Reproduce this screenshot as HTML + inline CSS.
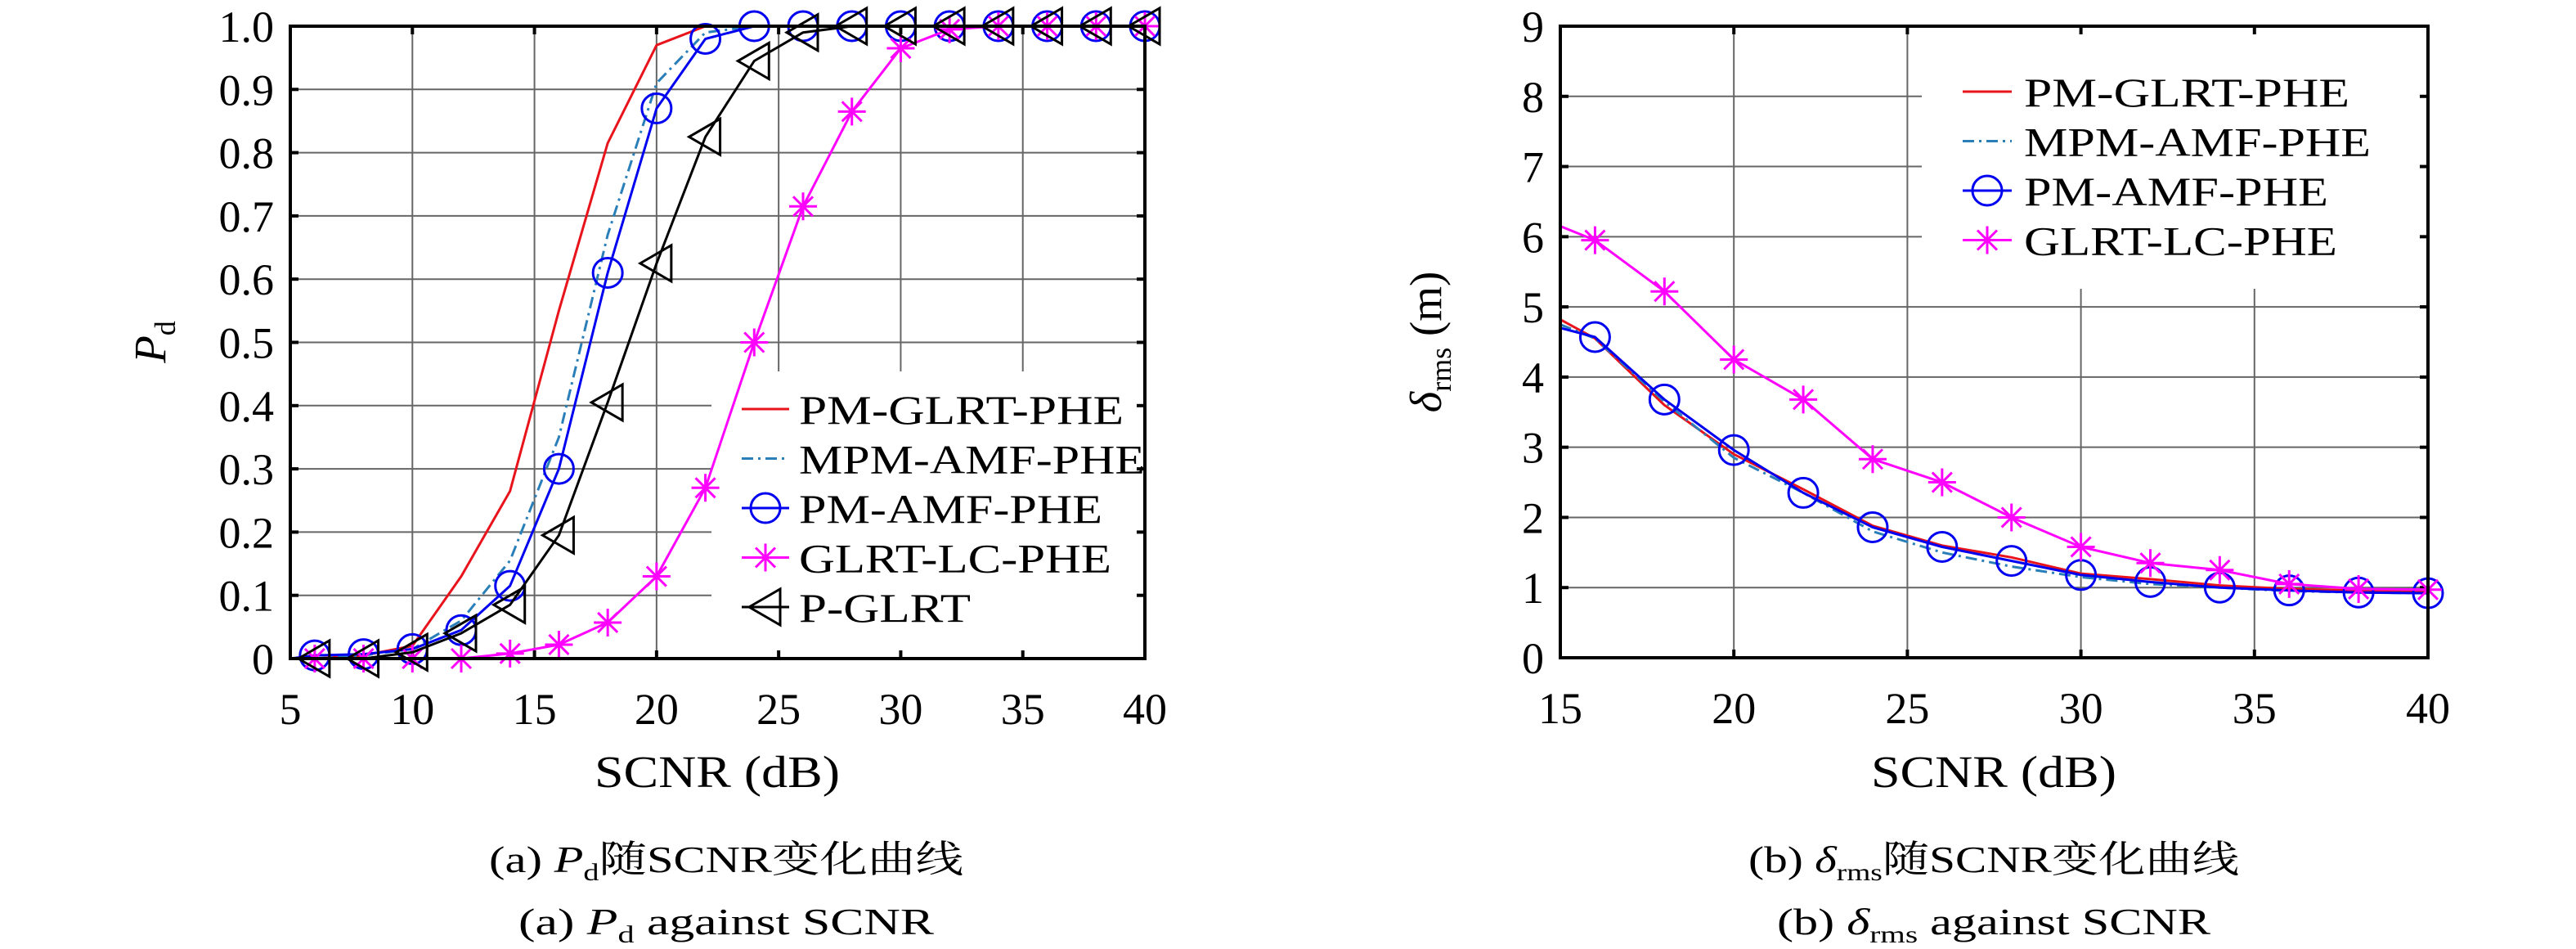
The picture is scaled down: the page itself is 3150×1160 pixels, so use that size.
<!DOCTYPE html>
<html><head><meta charset="utf-8"><style>
html,body{margin:0;padding:0;background:#fff;}
svg{display:block;font-family:"Liberation Serif","Noto Serif CJK SC",serif;}
</style></head><body>
<svg id="fig" width="3150" height="1160" viewBox="0 0 3150 1160" xmlns="http://www.w3.org/2000/svg">
<defs>
<clipPath id="clipA"><rect x="355" y="32" width="1045" height="773"/></clipPath>
<clipPath id="clipB"><rect x="1908" y="32" width="1061" height="772"/></clipPath>
</defs>
<g id="plotA"></g>
<g id="plotB"></g>
<text x="877" y="962" font-size="55" text-anchor="middle" textLength="300" lengthAdjust="spacingAndGlyphs">SCNR (dB)</text>
<text x="2438" y="962" font-size="55" text-anchor="middle" textLength="300" lengthAdjust="spacingAndGlyphs">SCNR (dB)</text>
<text transform="translate(202,418) rotate(-90)" font-size="55" text-anchor="middle"><tspan font-style="italic">P</tspan><tspan font-size="36" dy="12">d</tspan></text>
<text transform="translate(1762,418) rotate(-90)" font-size="55" text-anchor="middle"><tspan font-style="italic">δ</tspan><tspan font-size="36" dy="12">rms</tspan><tspan dy="-12"> (m)</tspan></text>
<text x="888" y="1066" font-size="46" text-anchor="middle" textLength="580" lengthAdjust="spacingAndGlyphs">(a) <tspan font-style="italic">P</tspan><tspan font-size="30" dy="10">d</tspan><tspan dy="-10">随SCNR变化曲线</tspan></text>
<text x="888" y="1142" font-size="46" text-anchor="middle" textLength="508" lengthAdjust="spacingAndGlyphs">(a) <tspan font-style="italic">P</tspan><tspan font-size="30" dy="10">d</tspan><tspan dy="-10"> against SCNR</tspan></text>
<text x="2438" y="1066" font-size="46" text-anchor="middle" textLength="600" lengthAdjust="spacingAndGlyphs">(b) <tspan font-style="italic">δ</tspan><tspan font-size="30" dy="10">rms</tspan><tspan dy="-10">随SCNR变化曲线</tspan></text>
<text x="2438" y="1142" font-size="46" text-anchor="middle" textLength="530" lengthAdjust="spacingAndGlyphs">(b) <tspan font-style="italic">δ</tspan><tspan font-size="30" dy="10">rms</tspan><tspan dy="-10"> against SCNR</tspan></text>
</svg>
<script>
// ---- Chart A data ----
const xsA = [5,6,8,10,12,14,16,18,20,22,24,26,28,30,32,34,36,38,40];
const pmGlrtA = [0,0,0.005,0.02,0.13,0.265,0.55,0.815,0.97,1,1,1,1,1,1,1,1,1,1];
const mpmAmfA = [0,0,0.005,0.015,0.06,0.155,0.35,0.67,0.91,0.99,1,1,1,1,1,1,1,1,1];
const pmAmfA = [0,0.005,0.007,0.015,0.045,0.115,0.30,0.61,0.87,0.98,1,1,1,1,1,1,1,1,1];
const glrtLcA = [0,0,0,0,0,0.008,0.022,0.057,0.13,0.27,0.50,0.715,0.865,0.965,0.995,1,1,1,1];
const pGlrtA = [0,0,0,0.01,0.04,0.085,0.195,0.405,0.625,0.825,0.945,0.99,1,1,1,1,1,1,1];
const xTicksA = [5,10,15,20,25,30,35,40];
const yTicksA = [0,0.1,0.2,0.3,0.4,0.5,0.6,0.7,0.8,0.9,1.0];
const yTickLabelsA = ["0","0.1","0.2","0.3","0.4","0.5","0.6","0.7","0.8","0.9","1.0"];
// ---- Chart B data ----
const xsB = [15,16,18,20,22,24,26,28,30,32,34,36,38,40];
const pmGlrtB = [4.82,4.55,3.6,2.9,2.4,1.88,1.6,1.43,1.2,1.12,1.03,0.98,0.96,0.95];
const mpmAmfB = [4.75,4.55,3.65,2.85,2.35,1.8,1.5,1.3,1.15,1.05,1.0,0.95,0.93,0.92];
const pmAmfB = [4.7,4.57,3.68,2.96,2.35,1.86,1.58,1.38,1.18,1.08,1.0,0.96,0.93,0.92];
const glrtLcB = [6.15,5.95,5.22,4.25,3.68,2.83,2.5,2.0,1.58,1.35,1.25,1.05,0.98,0.97];
const xTicksB = [15,20,25,30,35,40];
const yTicksB = [0,1,2,3,4,5,6,7,8,9];
const yTickLabelsB = ["0","1","2","3","4","5","6","7","8","9"];

const NS = "http://www.w3.org/2000/svg";
function mk(tag, attrs, parent){
  const e = document.createElementNS(NS, tag);
  for (const k in attrs) e.setAttribute(k, attrs[k]);
  parent.appendChild(e);
  return e;
}
function marker(g, type, cx, cy, color){
  if (type === 'circle'){
    const c = mk('circle', {cx:cx, cy:cy, r:18, fill:'none', stroke:color, 'stroke-width':3}, g);
    
    
  } else if (type === 'star'){
    const s = 17, d = 12;
    const p = mk('path', {d:`M${cx-s},${cy}H${cx+s}M${cx},${cy-s}V${cy+s}M${cx-d},${cy-d}L${cx+d},${cy+d}M${cx-d},${cy+d}L${cx+d},${cy-d}`, stroke:color, 'stroke-width':3, fill:'none'}, g);
    
    
  } else if (type === 'tri'){
    const p = mk('path', {d:`M${cx-20},${cy}L${cx+18},${cy-22}L${cx+18},${cy+22}Z`, stroke:color, 'stroke-width':3, fill:'none'}, g);
    
    
  }
}
function buildChart(cfg){
  const g = document.getElementById(cfg.id);
  const sx = v => cfg.x0 + (v - cfg.xmin) / (cfg.xmax - cfg.xmin) * (cfg.x1 - cfg.x0);
  const sy = v => cfg.y1 - (v - cfg.ymin) / (cfg.ymax - cfg.ymin) * (cfg.y1 - cfg.y0);
  cfg.xTicks.forEach(t => {
    const l = mk('line', {x1:sx(t), x2:sx(t), y1:cfg.y0, y2:cfg.y1, stroke:'#666', 'stroke-width':2}, g);
    
    
    const tx = mk('text', {x:sx(t), y:cfg.y1 + 80, 'font-size':54, 'text-anchor':'middle'}, g);
    tx.textContent = t;
    
    
  });
  cfg.yTicks.forEach((t, i) => {
    const l = mk('line', {x1:cfg.x0, x2:cfg.x1, y1:sy(t), y2:sy(t), stroke:'#666', 'stroke-width':2}, g);
    
    
    const tx = mk('text', {x:cfg.x0 - 20, y:sy(t) + 19, 'font-size':54, 'text-anchor':'end'}, g);
    tx.textContent = cfg.yLabels[i];
    
    
  });
  const lb = mk('rect', {x:cfg.leg.bx, y:cfg.leg.by, width:cfg.leg.bw, height:cfg.leg.bh, fill:'#fff'}, g);
  
  
  const tk = mk('g', {stroke:'#000', 'stroke-width':4}, g);
  
  
  cfg.xTicks.forEach(t => {
    mk('line', {x1:sx(t), x2:sx(t), y1:cfg.y1, y2:cfg.y1 - 10}, tk);
    mk('line', {x1:sx(t), x2:sx(t), y1:cfg.y0, y2:cfg.y0 + 10}, tk);
  });
  cfg.yTicks.forEach(t => {
    mk('line', {x1:cfg.x0, x2:cfg.x0 + 10, y1:sy(t), y2:sy(t)}, tk);
    mk('line', {x1:cfg.x1, x2:cfg.x1 - 10, y1:sy(t), y2:sy(t)}, tk);
  });
  cfg.series.forEach(s => {
    const sg = mk('g', {}, g);
    
    
    const pts = cfg.xs.map((x, i) => sx(x).toFixed(1) + ',' + sy(s.data[i]).toFixed(1)).join(' ');
    const pl = mk('polyline', {points:pts, fill:'none', stroke:s.color, 'stroke-width':3, 'clip-path':cfg.clip, 'stroke-linejoin':'round'}, sg);
    if (s.dash) pl.setAttribute('stroke-dasharray', s.dash);
    
    
    if (s.marker) cfg.xs.forEach((x, i) => { if (x % 2 === 0) marker(sg, s.marker, sx(x), sy(s.data[i]), s.color); });
  });
  const box = mk('rect', {x:cfg.x0, y:cfg.y0, width:cfg.x1 - cfg.x0, height:cfg.y1 - cfg.y0, fill:'none', stroke:'#000', 'stroke-width':4}, g);
  
  
  const lg = mk('g', {}, g);
  
  
  cfg.series.forEach((s, i) => {
    const y = cfg.leg.y0 + i * cfg.leg.dy;
    const eg = mk('g', {}, lg);
    
    
    const ln = mk('line', {x1:cfg.leg.lx0, x2:cfg.leg.lx1, y1:y, y2:y, stroke:s.color, 'stroke-width':3}, eg);
    if (s.dash) ln.setAttribute('stroke-dasharray', s.dash);
    if (s.marker) marker(eg, s.marker, (cfg.leg.lx0 + cfg.leg.lx1) / 2, y, s.color);
    const t = mk('text', {x:cfg.leg.tx, y:y + 18, 'font-size':50, textLength:s.tl, lengthAdjust:'spacingAndGlyphs'}, eg);
    t.textContent = s.label;
  });
}
buildChart({id:'plotA', x0:355, x1:1400, y0:32, y1:805, xmin:5, xmax:40, ymin:0, ymax:1,
  xs:xsA, xTicks:xTicksA, yTicks:yTicksA, yLabels:yTickLabelsA, clip:'url(#clipA)',
  leg:{bx:870, by:454, bw:528, bh:349, y0:500, dy:60.5, lx0:907, lx1:965, tx:977},
  series:[
    {key:'pm-glrt-phe', label:'PM-GLRT-PHE', data:pmGlrtA, color:'#e8131b', tl:397},
    {key:'mpm-amf-phe', label:'MPM-AMF-PHE', data:mpmAmfA, color:'#2a7fb8', dash:'14,6,3,6', tl:423},
    {key:'pm-amf-phe', label:'PM-AMF-PHE', data:pmAmfA, color:'#0000f0', marker:'circle', tl:371},
    {key:'glrt-lc-phe', label:'GLRT-LC-PHE', data:glrtLcA, color:'#ff00ff', marker:'star', tl:382},
    {key:'p-glrt', label:'P-GLRT', data:pGlrtA, color:'#000', marker:'tri', tl:210}
  ]});
buildChart({id:'plotB', x0:1908, x1:2969, y0:32, y1:804, xmin:15, xmax:40, ymin:0, ymax:9,
  xs:xsB, xTicks:xTicksB, yTicks:yTicksB, yLabels:yTickLabelsB, clip:'url(#clipB)',
  leg:{bx:2350, by:34, bw:617, bh:319, y0:112, dy:60.5, lx0:2400, lx1:2460, tx:2475},
  series:[
    {key:'pm-glrt-phe', label:'PM-GLRT-PHE', data:pmGlrtB, color:'#e8131b', tl:398},
    {key:'mpm-amf-phe', label:'MPM-AMF-PHE', data:mpmAmfB, color:'#2a7fb8', dash:'14,6,3,6', tl:424},
    {key:'pm-amf-phe', label:'PM-AMF-PHE', data:pmAmfB, color:'#0000f0', marker:'circle', tl:372},
    {key:'glrt-lc-phe', label:'GLRT-LC-PHE', data:glrtLcB, color:'#ff00ff', marker:'star', tl:383}
  ]});
</script>
</body></html>
